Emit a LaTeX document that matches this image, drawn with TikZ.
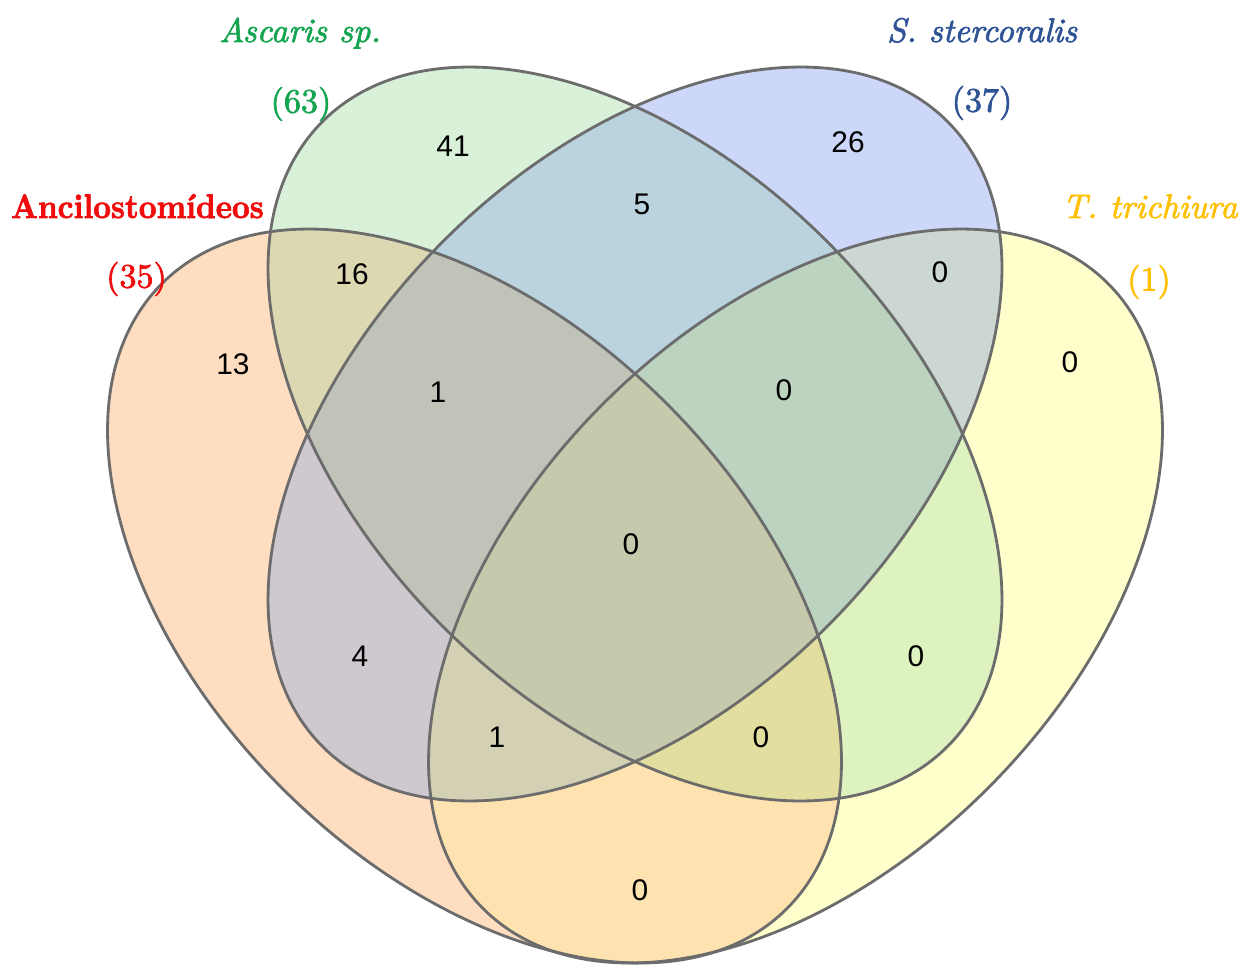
\documentclass[tikz,border=0pt]{standalone}
\usepackage{fontspec}
\newfontfamily\numfont{Liberation Sans}
\newfontfamily\labfont{lmroman10}[Extension=.otf, UprightFont=*-regular, ItalicFont=*-italic, BoldFont=*-bold, BoldItalicFont=*-bolditalic, FakeBold=2]
\definecolor{cO}{HTML}{FEDDC0}
\definecolor{cG}{HTML}{D8F1D8}
\definecolor{cB}{HTML}{CCD7FA}
\definecolor{cY}{HTML}{FFFFCC}
\definecolor{cOG}{HTML}{DCD9B2}
\definecolor{cOB}{HTML}{CFC9CF}
\definecolor{cOY}{HTML}{FEE3B0}
\definecolor{cGB}{HTML}{BAD3DF}
\definecolor{cGY}{HTML}{DDF2BF}
\definecolor{cBY}{HTML}{CDD7D2}
\definecolor{cOGB}{HTML}{BFC3B8}
\definecolor{cOGY}{HTML}{E2DEA0}
\definecolor{cOBY}{HTML}{D3D0B4}
\definecolor{cGBY}{HTML}{BCD3C0}
\definecolor{cOGBY}{HTML}{C7C9AC}
\definecolor{lred}{RGB}{240,12,12}
\definecolor{lgreen}{RGB}{20,165,80}
\definecolor{lblue}{RGB}{47,84,150}
\definecolor{lyellow}{RGB}{255,192,0}
\definecolor{vline}{RGB}{108,108,108}
\tikzset{
  rO/.style={rotate around={-45:(474.5,596)}},
  rG/.style={rotate around={-45:(635,434)}},
  rB/.style={rotate around={45:(635,434)}},
  rY/.style={rotate around={45:(795.5,596)}},
  vennline/.style={draw=vline, line width=1.6pt},
  num/.style={font=\numfont\fontsize{17}{20}\selectfont, text=black, inner sep=0pt},
  lab/.style={font=\labfont\fontsize{19.4}{23}\selectfont, inner sep=0pt}
}
\newcommand\clO{\clip[rO] (474.5,596) ellipse [x radius=8.84cm, y radius=5.44cm];}
\newcommand\clG{\clip[rG] (635,434) ellipse [x radius=8.84cm, y radius=5.44cm];}
\newcommand\clB{\clip[rB] (635,434) ellipse [x radius=8.84cm, y radius=5.44cm];}
\newcommand\clY{\clip[rY] (795.5,596) ellipse [x radius=8.84cm, y radius=5.44cm];}
\newcommand\fillall[1]{\fill[#1] (0,0) rectangle (1239,967);}
\begin{document}
\begin{tikzpicture}[x=0.02cm,y=-0.02cm]
\useasboundingbox (0,0) rectangle (1239,967);
\fill[white] (0,0) rectangle (1239,967);
% single sets
\begin{scope}\clO\fillall{cO}\end{scope}
\begin{scope}\clG\fillall{cG}\end{scope}
\begin{scope}\clB\fillall{cB}\end{scope}
\begin{scope}\clY\fillall{cY}\end{scope}
% pairs
\begin{scope}\clO\clG\fillall{cOG}\end{scope}
\begin{scope}\clO\clB\fillall{cOB}\end{scope}
\begin{scope}\clO\clY\fillall{cOY}\end{scope}
\begin{scope}\clG\clB\fillall{cGB}\end{scope}
\begin{scope}\clG\clY\fillall{cGY}\end{scope}
\begin{scope}\clB\clY\fillall{cBY}\end{scope}
% triples
\begin{scope}\clO\clG\clB\fillall{cOGB}\end{scope}
\begin{scope}\clO\clG\clY\fillall{cOGY}\end{scope}
\begin{scope}\clO\clB\clY\fillall{cOBY}\end{scope}
\begin{scope}\clG\clB\clY\fillall{cGBY}\end{scope}
% all four
\begin{scope}\clO\clG\clB\clY\fillall{cOGBY}\end{scope}
% outlines
\draw[vennline, rO] (474.5,596) ellipse [x radius=8.84cm, y radius=5.44cm];
\draw[vennline, rG] (635,434) ellipse [x radius=8.84cm, y radius=5.44cm];
\draw[vennline, rB] (635,434) ellipse [x radius=8.84cm, y radius=5.44cm];
\draw[vennline, rY] (795.5,596) ellipse [x radius=8.84cm, y radius=5.44cm];
% region counts
\node[num] (n41) at (453,146) {41};
\node[num] (n5) at (642,204) {5};
\node[num] (n26) at (848,142) {26};
\node[num] (n16) at (352,274) {16};
\node[num] (nBY) at (940,272) {0};
\node[num] (n13) at (233,364) {13};
\node[num] (nY) at (1070,362) {0};
\node[num] (nOGB) at (438,392) {1};
\node[num] (nGBY) at (784,390) {0};
\node[num] (nAll) at (631,544) {0};
\node[num] (n4) at (360,656) {4};
\node[num] (nGY) at (916,656) {0};
\node[num] (nOBY) at (497,737) {1};
\node[num] (nOGY) at (761,737) {0};
\node[num] (nOY) at (640,890) {0};
% set labels
\node[lab, text=lgreen, anchor=base] (lA) at (300,42) {\itshape Ascaris sp.};
\node[lab, text=lgreen] (lAn) at (301,104) {(63)};
\node[lab, text=lblue, anchor=base] (lS) at (982,42) {\itshape S. stercoralis};
\node[lab, text=lblue] (lSn) at (982,103) {(37)};
\node[lab, text=lred, anchor=base] (lH) at (137.5,218) {\scalebox{0.906}[1]{\bfseries Ancilostomídeos}};
\node[lab, text=lred] (lHn) at (136.5,279) {(35)};
\node[lab, text=lyellow, anchor=base] (lT) at (1150,218) {\itshape T. trichiura};
\node[lab, text=lyellow] (lTn) at (1149,282) {(1)};
\end{tikzpicture}
\end{document}
